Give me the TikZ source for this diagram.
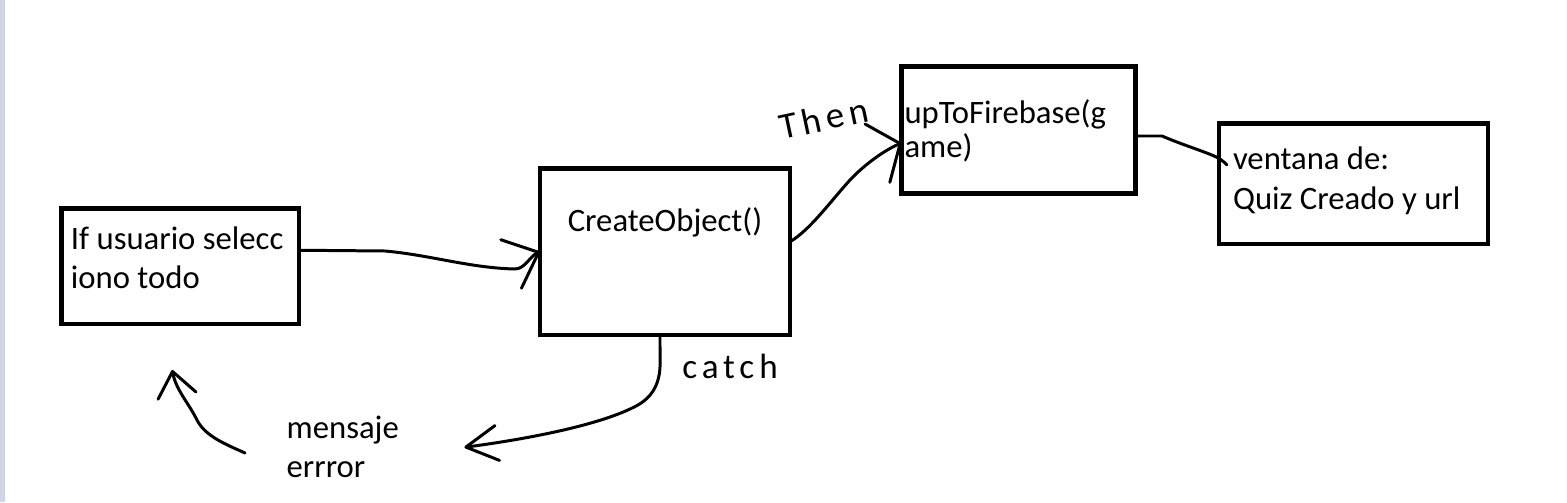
\documentclass[tikz,border=0pt]{standalone}
\usepackage{fontspec}
\setmainfont{Carlito}
\newfontfamily\handfont[LetterSpace=14]{Carlito}
\usepackage{xcolor}
\usepackage{tikz}
\usetikzlibrary{arrows.meta}
\definecolor{StripGrey}{RGB}{206,214,229}

\begin{document}
\begin{tikzpicture}[
    box/.style={draw,line width=1.4pt,inner sep=0pt,outer sep=0pt,
      anchor=north west,font=\fontsize{9.3pt}{11.2pt}\selectfont},
    wire/.style={line width=0.85pt,line cap=round,line join=round},
    barb/.style={wire,-{Straight Barb[round,#1]}},
    scrawl/.style={font=\handfont\fontsize{#1}{12pt}\selectfont}]
        \useasboundingbox (0,0) rectangle (15.67,5.02);
        \fill[white] (0,0) rectangle (15.67,5.02);
        \fill[StripGrey] (0,0) rectangle (0.05,5.02);
        % the four boxes
        \node[box,minimum width=2.375cm,text width=2.185cm,align=flush left,
          text height=0.408cm,text depth=0.747cm] (usuario)
          at (0.615,2.935) {\mbox{If usuario selecc}\\iono todo};
        \node[box,minimum width=2.5cm,align=center,
          text height=0.632cm,text depth=1.033cm] (crear)
          at (5.40,3.335) {CreateObject()};
        \node[box,minimum width=2.34cm,text width=2.28cm,align=flush left,
          text height=0.568cm,text depth=0.702cm] (subir)
          at (9.015,4.355) {\mbox{upToFirebase(g}\\[-1.5pt]ame)};
        \node[box,minimum width=2.69cm,text width=2.41cm,align=flush left,
          text height=0.465cm,text depth=0.74cm] (ventana)
          at (12.19,3.785) {ventana de:\\\mbox{Quiz Creado y url}};
        \node[anchor=base west,align=flush left,text width=1.3cm,inner sep=0pt,
          font=\fontsize{9.3pt}{11.2pt}\selectfont] (mensaje)
          at (2.86,0.637) {mensaje\\errror};
        % hand drawn connectors
        \draw[barb={length=8.5pt,width=15pt}] ([yshift=0.16cm]usuario.east)
          -- (3.85,2.51) .. controls (4.3,2.47) and (4.7,2.34) .. (5.15,2.33)
          .. controls (5.25,2.33) and (5.30,2.46) .. (crear.west);
        \draw[barb={length=7pt,width=18pt}] ([yshift=0.1cm]crear.east)
          .. controls (8.1,2.72) and (8.3,3.0) .. (8.5,3.22)
          .. controls (8.65,3.38) and (8.85,3.52) .. ([yshift=-0.13cm]subir.west);
        \draw[wire] ([yshift=-0.06cm]subir.east) -- (11.62,3.66)
          .. controls (11.85,3.56) and (12.1,3.49) .. (12.2,3.43)
          .. controls (12.23,3.41) and (12.25,3.39) .. ([shift={(0.077,0.19)}]ventana.west);
        \draw[barb={length=9pt,width=10pt}] ([xshift=-0.05cm]crear.south)
          -- (6.60,1.35) .. controls (6.59,1.15) and (6.50,1.04) .. (6.38,0.97)
          .. controls (6.0,0.76) and (5.2,0.62) .. ([shift={(0.47,-0.09)}]mensaje.base east);
        \draw[barb={length=7pt,width=11pt}] ([shift={(-0.41,-0.147)}]mensaje.base west)
          .. controls (2.25,0.58) and (2.05,0.66) .. (1.97,0.82)
          .. controls (1.88,1.0) and (1.76,1.12) .. ([shift={(-0.08,-0.46)}]usuario.south);
        \node[scrawl=10.5pt,rotate=12] (then) at (8.24,3.84) {Then};
        \node[scrawl=10pt] (catch) at (7.30,1.36) {catch};
      \end{tikzpicture}
\end{document}
